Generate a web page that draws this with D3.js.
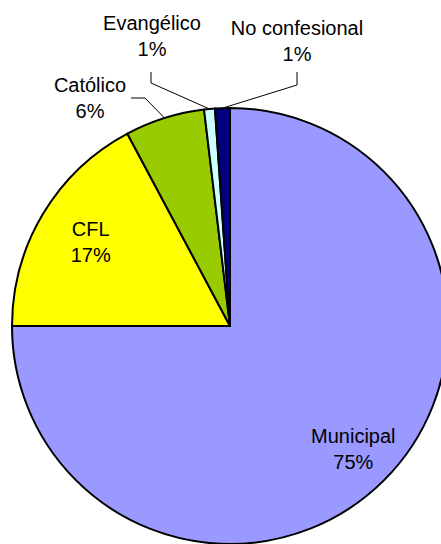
<!DOCTYPE html>
<html>
<head>
<meta charset="utf-8">
<script src="https://cdn.jsdelivr.net/npm/d3@7/dist/d3.min.js"></script>
<style>
  body { margin: 0; background: #fff; }
  text { font-family: "Liberation Sans", Arial, sans-serif; font-size: 20px; fill: #000; }
</style>
</head>
<body>
<script>
 // slice data, clockwise from 12 o'clock
 var categories = ['Municipal', 'CFL', 'Católico', 'Evangélico', 'No confesional'];
 var shares = [75.0, 17.2, 5.9, 0.8, 1.1];
 var pctLabels = ['75%', '17%', '6%', '1%', '1%'];
 var colors = ['#9999FF', '#FFFF00', '#99CC00', '#CCFFFF', '#000080'];

 var width = 441, height = 544;
 var cx = 230, cy = 326, R = 218;
 var lineGap = 26;

 // where the labels sit (Excel dragged some of them outside)
 // inside: radius factor on the slice mid-angle; outside: text block center + leader elbow
 var labelLayout = {
   'Municipal': {inside: true, k: 0.8},
   'CFL': {inside: true, k: 0.745},
   'Católico': {inside: false, x: 90, y: 98, elbow: [[131, 98], [145, 98]]},
   'Evangélico': {inside: false, x: 152, y: 36, elbow: [[151, 72], [151, 83]]},
   'No confesional': {inside: false, x: 297, y: 41, elbow: [[297, 72], [297, 85]]}
 };

 var data = categories.map(function(c, i) {
   return {name: c, value: shares[i], pct: pctLabels[i], color: colors[i]};
 });

 var svg = d3.select('body').append('svg')
             .attr('width', width)
             .attr('height', height);

 var g = svg.append('g').attr('transform', 'translate(' + cx + ',' + cy + ')');

 var pie = d3.pie().sort(null).value(function(d) { return d.value; });
 var arc = d3.arc().innerRadius(0).outerRadius(R);
 var arcs = pie(data);

 g.selectAll('path.slice')
  .data(arcs)
  .enter()
  .append('path')
  .attr('class', 'slice')
  .attr('d', arc)
  .attr('fill', function(d) { return d.data.color; })
  .attr('stroke', '#000')
  .attr('stroke-width', 2)
  .attr('stroke-linejoin', 'round');

 function midPoint(d, r) {
   var a = (d.startAngle + d.endAngle) / 2;
   return [r * Math.sin(a), -r * Math.cos(a)];
 }

 // leader lines for the outside labels
 arcs.forEach(function(d) {
   var lay = labelLayout[d.data.name];
   if (lay.inside) return;
   var end = midPoint(d, R);
   var pts = lay.elbow.map(function(p) { return [p[0] - cx, p[1] - cy]; });
   pts.push(end);
   g.append('path')
    .attr('d', d3.line()(pts))
    .attr('fill', 'none')
    .attr('stroke', '#000')
    .attr('stroke-width', 1);
 });

 // labels: name on the first line, percent below
 arcs.forEach(function(d) {
   var lay = labelLayout[d.data.name];
   var p;
   if (lay.inside) p = midPoint(d, R * lay.k);
   else p = [lay.x - cx, lay.y - cy];
   var t = g.append('text')
            .attr('text-anchor', 'middle')
            .attr('x', p[0])
            .attr('y', p[1] - lineGap / 2 + 7);
   t.append('tspan').attr('x', p[0]).text(d.data.name);
   t.append('tspan').attr('x', p[0]).attr('dy', lineGap).text(d.data.pct);
 });
</script>
</body>
</html>
